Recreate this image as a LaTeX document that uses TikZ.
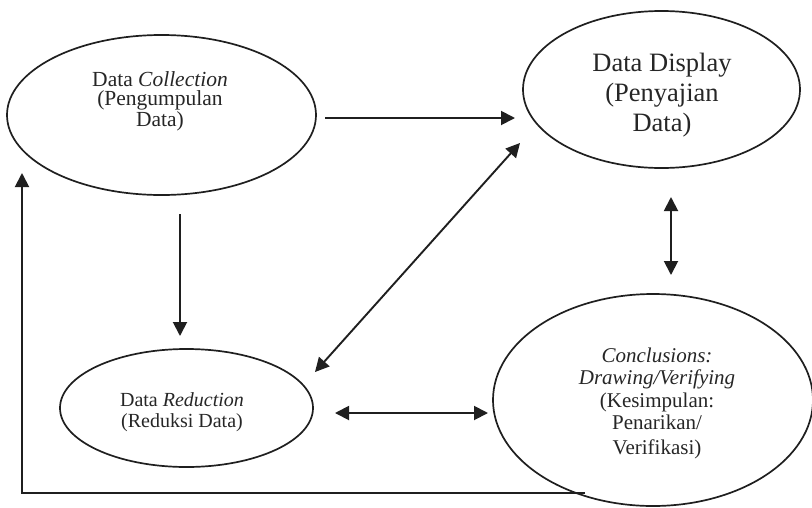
\documentclass[tikz,border=0pt]{standalone}
\usepackage{fontspec}
\setmainfont{Liberation Serif}
\usetikzlibrary{shapes.geometric,arrows.meta}
\tikzset{
  oval/.style={ellipse, draw=black!88, line width=1.7pt, inner sep=0pt},
  lbl/.style={align=center, inner sep=0pt, text=black!85},
  conn/.style={line width=1.9pt, draw=black!88, -{Triangle[length=14pt,width=14pt]}},
  biconn/.style={line width=1.9pt, draw=black!88, {Triangle[length=14pt,width=14pt]}-{Triangle[length=14pt,width=14pt]}}
}
\begin{document}
\begin{tikzpicture}[x=1pt,y=-1pt]
\useasboundingbox (0,0) rectangle (812,507);
% ellipses
\node[oval, minimum width=309pt, minimum height=160pt] (col) at (161.5,115) {};
\node[oval, minimum width=277pt, minimum height=157pt] (dis) at (661.5,89.5) {};
\node[oval, minimum width=253pt, minimum height=118pt] (red) at (186.5,408) {};
\node[oval, minimum width=320pt, minimum height=212pt] (con) at (653,400) {};
% labels
\node[lbl, font=\fontsize{21.5}{19.5}\selectfont] (colt) at (160,101)
  {Data \textit{Collection}\\(Pengumpulan\\Data)};
\node[lbl, font=\fontsize{26.5}{30}\selectfont] (dist) at (662,95)
  {Data Display\\(Penyajian\\Data)};
\node[lbl, font=\fontsize{20}{21.5}\selectfont] (redt) at (182,412)
  {Data \textit{Reduction}\\(Reduksi Data)};
\node[lbl, font=\fontsize{21}{22.5}\selectfont] (cont) at (657,403)
  {\textit{Conclusions:}\\\textit{Drawing/Verifying}\\(Kesimpulan:\\Penarikan/\\[2pt]Verifikasi)};
% connector end points
\coordinate (p1) at (325,118);
\coordinate (p2) at (515,118);
\coordinate (p3) at (180,214);
\coordinate (p4) at (180,336);
\coordinate (p5) at (315,372);
\coordinate (p6) at (520,143);
\coordinate (p7) at (335,413);
\coordinate (p8) at (488,413);
\coordinate (p9) at (671,197);
\coordinate (p10) at (671,275);
\coordinate (f1) at (585,493);
\coordinate (f2) at (22,493);
\coordinate (f3) at (22,173);
% connectors
\draw[conn] (p1) -- (p2);
\draw[conn] (p3) -- (p4);
\draw[biconn] (p5) -- (p6);
\draw[biconn] (p7) -- (p8);
\draw[biconn] (p9) -- (p10);
\draw[conn] (f1) -- (f2) -- (f3);
\end{tikzpicture}
\end{document}
